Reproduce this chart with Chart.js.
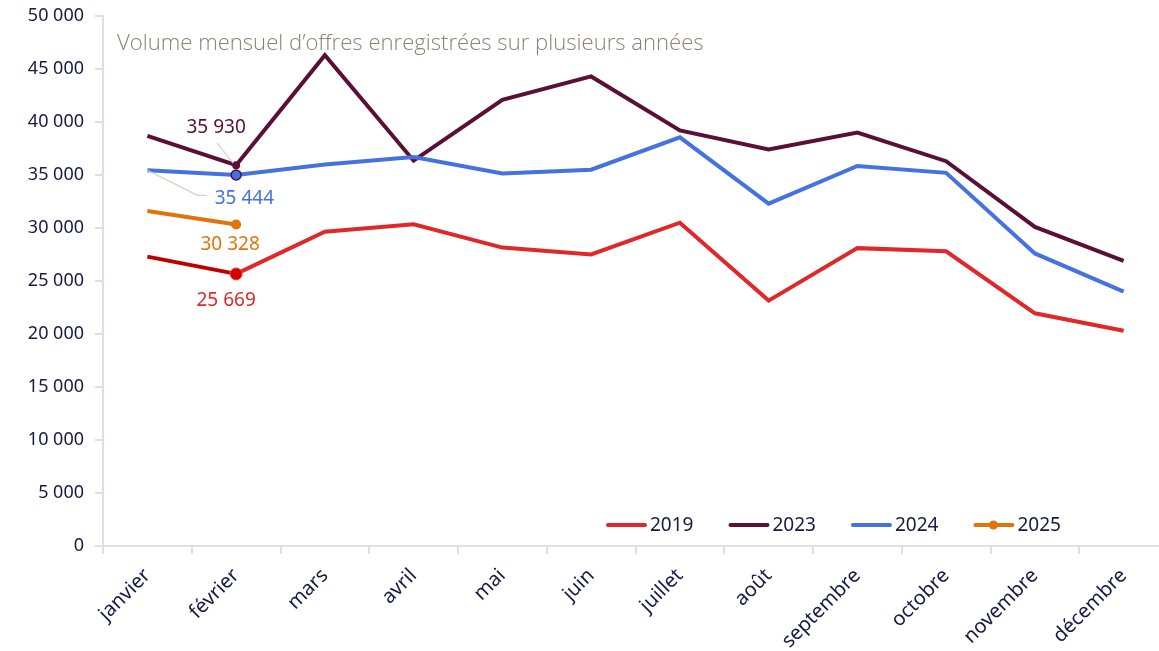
<!DOCTYPE html>
<html>
<head>
<meta charset="utf-8">
<script src="https://cdn.jsdelivr.net/npm/chart.js@4"></script>
<style>
  html, body { margin: 0; padding: 0; background: #fff; overflow: hidden; }
  #wrap { width: 1173px; height: 651px; }
</style>
</head>
<body>
<div id="wrap"><canvas id="myChart" width="1173" height="651"></canvas></div>
<script>
const months = ['janvier', 'février', 'mars', 'avril', 'mai', 'juin',
  'juillet', 'août', 'septembre', 'octobre', 'novembre', 'décembre'];
const yTicks = [0, 5000, 10000, 15000, 20000, 25000, 30000, 35000, 40000, 45000, 50000];

const v2019 = [27300, 25669, 29650, 30350, 28150, 27500, 30500, 23150, 28100, 27800, 21950, 20300];
const v2023 = [38700, 35930, 46300, 36350, 42100, 44300, 39200, 37400, 39000, 36300, 30100, 26900];
const v2024 = [35444, 35000, 36000, 36700, 35150, 35500, 38550, 32300, 35850, 35200, 27600, 24000];
const v2025 = [31600, 30328];

const title = 'Volume mensuel d’offres enregistrées sur plusieurs années';

const RED = '#e0282a';
const DARKRED = '#c00000';
const PLUM = '#5a0f37';
const BLUE = '#4472e0';
const ORANGE = '#e0740a';
const NAVY = '#161a45';
const AXIS = '#e3e0da';
const LEADER = '#d3cfc8';

const fmt = v => String(v).replace(/\B(?=(\d{3})+(?!\d))/g, ' ');
const onlyFeb = r => ctx => ctx.dataIndex === 1 ? r : 0;

// value labels: dataset index, point index, pixel offset, colour, leader line
const callouts = [
  { ds: 1, i: 1, dx: -20, dy: -38, color: PLUM, leader: [[-19, -22], [-3, -2]] },
  { ds: 2, i: 0, dx: 97, dy: 28, color: BLUE, leader: [[0, 0], [50, 25], [59, 25]] },
  { ds: 3, i: 1, dx: -6, dy: 20, color: ORANGE },
  { ds: 0, i: 1, dx: -10, dy: 27, color: RED },
];

const legendItems = [
  { text: '2019', color: RED },
  { text: '2023', color: PLUM },
  { text: '2024', color: BLUE },
  { text: '2025', color: ORANGE, dot: true },
];

const extras = {
  id: 'extras',
  afterDatasetsDraw(chart) {
    const ctx = chart.ctx;
    const x = chart.scales.x, y = chart.scales.y;
    ctx.save();
    // title inside plot, stretched to the same width as the original
    ctx.font = '300 20px "Open Sans"';
    const size = 20 * 588 / ctx.measureText(title).width;
    ctx.font = '300 ' + size.toFixed(1) + 'px "Open Sans"';
    ctx.fillStyle = '#8f8170';
    ctx.textAlign = 'left';
    ctx.textBaseline = 'alphabetic';
    ctx.fillText(title, 117, 50);

    // callouts
    ctx.textBaseline = 'middle';
    ctx.font = '19px "Noto Sans"';
    ctx.textAlign = 'center';
    callouts.forEach(c => {
      const val = chart.data.datasets[c.ds].data[c.i];
      const px = x.getPixelForValue(c.i), py = y.getPixelForValue(val);
      if (c.leader) {
        ctx.strokeStyle = LEADER;
        ctx.lineWidth = 1.2;
        ctx.beginPath();
        c.leader.forEach((p, k) => k ? ctx.lineTo(px + p[0], py + p[1]) : ctx.moveTo(px + p[0], py + p[1]));
        ctx.stroke();
      }
      ctx.fillStyle = c.color;
      ctx.fillText(fmt(val), px + c.dx, py + c.dy);
    });

    // legend inside the plot, bottom right
    ctx.textAlign = 'left';
    let lx = 606;
    const ly = 525;
    legendItems.forEach(it => {
      ctx.strokeStyle = it.color;
      ctx.lineWidth = 4;
      ctx.lineCap = 'round';
      ctx.beginPath();
      ctx.moveTo(lx + 2, ly);
      ctx.lineTo(lx + 39, ly);
      ctx.stroke();
      if (it.dot) {
        ctx.fillStyle = it.color;
        ctx.beginPath();
        ctx.arc(lx + 20, ly, 4.5, 0, Math.PI * 2);
        ctx.fill();
      }
      ctx.fillStyle = NAVY;
      ctx.fillText(it.text, lx + 44, ly + 1);
      lx += 44 + ctx.measureText(it.text).width + 35;
    });
    ctx.restore();
  }
};

new Chart(document.getElementById('myChart'), {
  type: 'line',
  data: {
    labels: months,
    datasets: [
      {
        label: '2019', data: v2019, borderColor: RED, backgroundColor: RED,
        borderWidth: 4, tension: 0,
        segment: { borderColor: s => s.p0DataIndex === 0 ? DARKRED : RED },
        pointRadius: onlyFeb(6), pointBackgroundColor: '#d40000',
        pointBorderColor: '#e84040', pointBorderWidth: 1, order: 4
      },
      {
        label: '2023', data: v2023, borderColor: PLUM, backgroundColor: PLUM,
        borderWidth: 4, tension: 0,
        pointRadius: onlyFeb(4), pointBorderWidth: 0, order: 3
      },
      {
        label: '2024', data: v2024, borderColor: BLUE, backgroundColor: BLUE,
        borderWidth: 4, tension: 0,
        pointRadius: onlyFeb(5), pointBorderColor: PLUM, pointBorderWidth: 1.5, order: 2
      },
      {
        label: '2025', data: v2025, borderColor: ORANGE, backgroundColor: ORANGE,
        borderWidth: 4, tension: 0,
        pointRadius: onlyFeb(5), pointBorderWidth: 0, order: 1
      }
    ]
  },
  options: {
    responsive: false,
    animation: false,
    devicePixelRatio: 1,
    layout: { padding: { top: 16, left: 0, right: 0, bottom: 0 } },
    plugins: {
      legend: { display: false },
      tooltip: { enabled: false }
    },
    scales: {
      x: {
        offset: true,
        grid: { offset: true, drawOnChartArea: false, drawTicks: true, tickLength: 8, color: AXIS, lineWidth: 2 },
        border: { color: AXIS, width: 2 },
        ticks: {
          color: NAVY, font: { family: 'Noto Sans', size: 20 },
          minRotation: 45, maxRotation: 45, padding: 10, autoSkip: false
        },
        afterFit: s => { s.height = 105; s.paddingLeft = 0; s.paddingRight = 0; }
      },
      y: {
        min: 0, max: 50000,
        afterBuildTicks: s => { s.ticks = yTicks.map(v => ({ value: v })); },
        grid: { drawOnChartArea: false, drawTicks: true, tickLength: 8, color: AXIS, lineWidth: 2 },
        border: { color: AXIS, width: 2 },
        ticks: {
          color: NAVY, font: { family: 'Noto Sans', size: 18 }, padding: 11,
          callback: v => fmt(v)
        },
        afterFit: s => { s.width = 103; s.paddingTop = 0; s.paddingBottom = 0; }
      }
    }
  },
  plugins: [extras]
});
</script>
</body>
</html>
